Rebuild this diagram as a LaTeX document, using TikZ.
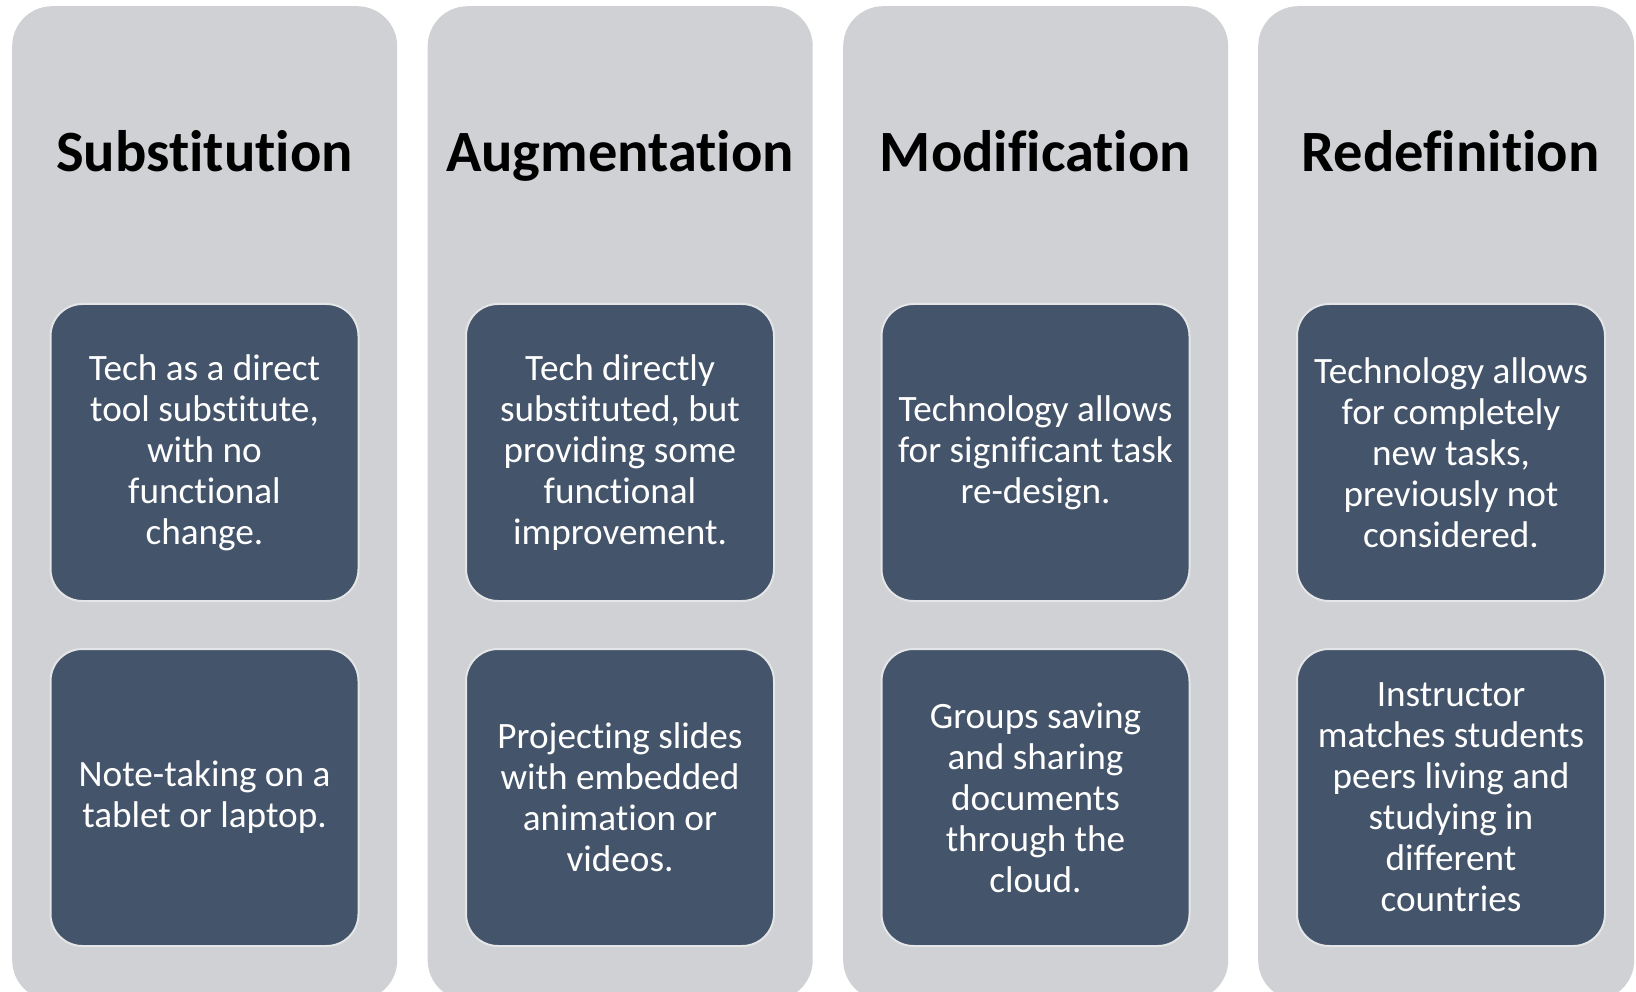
\documentclass[tikz,border=0pt]{standalone}
\usepackage{fontspec}
\setmainfont{Carlito}[Ligatures=NoCommon]
\definecolor{colgrey}{RGB}{208,209,213}
\definecolor{boxblue}{RGB}{68,84,106}
\definecolor{boxedge}{RGB}{228,229,231}
\begin{document}
\begin{tikzpicture}[x=1pt,y=-1pt,
  column/.style={fill=colgrey, rounded corners=40pt, minimum width=385pt,
    minimum height=994pt, inner sep=0pt, anchor=north west},
  title/.style={anchor=base, inner sep=0pt, text=black,
    font=\fontsize{58.5}{62}\selectfont\bfseries},
  item/.style={fill=boxblue, draw=boxedge, line width=2pt, rounded corners=32pt,
    minimum width=308pt, minimum height=297pt, inner sep=0pt, text=white,
    align=center, font=\fontsize{37.2}{41}\selectfont}]
\useasboundingbox (0,0) rectangle (1636,992);
\clip (0,0) rectangle (1636,992);
% columns
\node[column] (c1) at (12,6) {};
\node[column] (c2) at (427.5,6) {};
\node[column] (c3) at (843,6) {};
\node[column, minimum width=376pt] (c4) at (1258,6) {};
% titles
\node[title] (t1) at (204.5,172) {Substitution};
\node[title] (t2) at (620,172) {Augmentation};
\node[title] (t3) at (1035.5,172) {Modification};
\node[title] (t4) at (1450.5,172) {Redefinition};
% upper boxes
\node[item] (u1) at (204.5,452.5) {Tech as a direct\\tool substitute,\\with no\\functional\\change.};
\node[item] (u2) at (620,452.5) {Tech directly\\substituted, but\\providing some\\functional\\improvement.};
\node[item] (u3) at (1035.5,452.5) {Technology allows\\for significant task\\re-design.};
\node[item] (u4) at (1451,452.5) {Technology allows\\for completely\\new tasks,\\previously not\\considered.};
% lower boxes
\node[item] (l1) at (204.5,797.5) {Note-taking on a\\tablet or laptop.};
\node[item] (l2) at (620,797.5) {Projecting slides\\with embedded\\animation or\\videos.};
\node[item] (l3) at (1035.5,797.5) {Groups saving\\and sharing\\documents\\through the\\cloud.};
\node[item] (l4) at (1451,797.5) {Instructor\\matches students\\peers living and\\studying in\\different\\countries};
\end{tikzpicture}
\end{document}
